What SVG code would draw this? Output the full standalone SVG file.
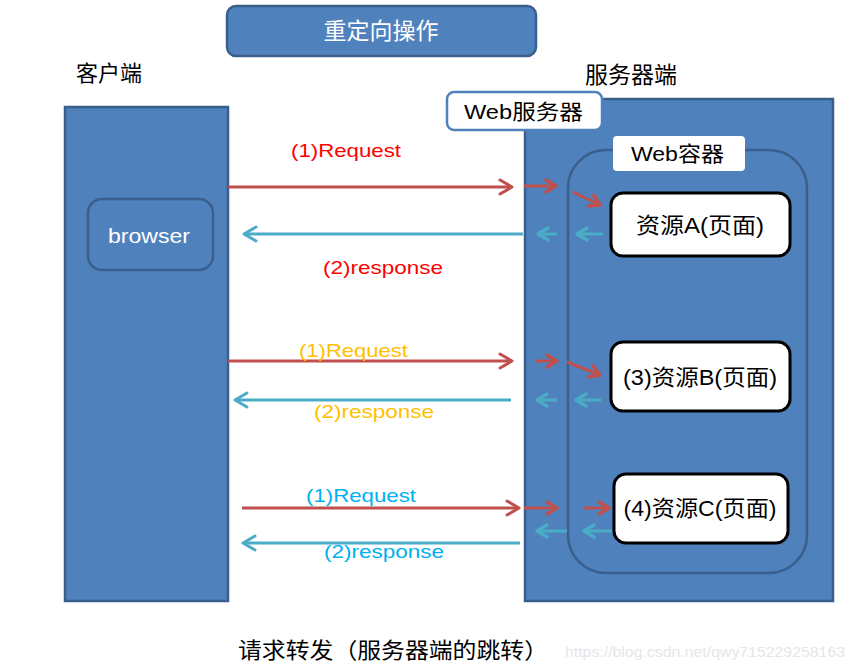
<svg xmlns="http://www.w3.org/2000/svg" width="855" height="670" viewBox="0 0 855 670">
<defs>
<style>
.box{fill:#4F81BD;stroke:#3A5F8C;stroke-width:2.5}
.res{fill:#FFFFFF;stroke:#000000;stroke-width:3}
.lab{font-family:"Liberation Sans","Noto Sans CJK SC",sans-serif}
.cjk{font-family:"Noto Sans CJK SC","Liberation Sans",sans-serif}
.red{stroke:#C0504D;stroke-width:3;fill:none}
.teal{stroke:#4BACC6;stroke-width:3;fill:none}
</style>
<marker id="mr" markerUnits="userSpaceOnUse" viewBox="-15 -10 18 20" markerWidth="18" markerHeight="20" refX="0" refY="0" orient="auto">
<path d="M-12,-7 L0,0 L-12,7" fill="none" stroke="#C0504D" stroke-width="3" stroke-linecap="round" stroke-linejoin="round"/>
</marker>
<marker id="mt" markerUnits="userSpaceOnUse" viewBox="-15 -10 18 20" markerWidth="18" markerHeight="20" refX="0" refY="0" orient="auto">
<path d="M-12,-7 L0,0 L-12,7" fill="none" stroke="#4BACC6" stroke-width="3" stroke-linecap="round" stroke-linejoin="round"/>
</marker>
<marker id="mrs" markerUnits="userSpaceOnUse" viewBox="-15 -10 18 20" markerWidth="18" markerHeight="20" refX="0" refY="0" orient="auto">
<path d="M-10,-6 L0,0 L-10,6" fill="none" stroke="#C0504D" stroke-width="3.5" stroke-linecap="round" stroke-linejoin="round"/>
</marker>
<marker id="mts" markerUnits="userSpaceOnUse" viewBox="-15 -10 18 20" markerWidth="18" markerHeight="20" refX="0" refY="0" orient="auto">
<path d="M-10,-6 L0,0 L-10,6" fill="none" stroke="#4BACC6" stroke-width="3.5" stroke-linecap="round" stroke-linejoin="round"/>
</marker>
</defs>
<rect width="855" height="670" fill="#FFFFFF"/>

<g id="title">
<rect class="box" x="227" y="6" width="309" height="50" rx="9"/>
<text class="cjk" x="381" y="39" font-size="23" fill="#FFFFFF" text-anchor="middle">重定向操作</text>
</g>

<g id="client">
<text class="cjk" x="76" y="81" font-size="22" fill="#000000">客户端</text>
<rect class="box" x="65" y="107" width="163" height="494"/>
</g>

<g id="browser">
<rect class="box" x="88" y="199" width="125" height="71" rx="14"/>
<text class="lab" x="108" y="243" font-size="21" fill="#FFFFFF" textLength="82" lengthAdjust="spacingAndGlyphs">browser</text>
</g>

<g id="server">
<text class="cjk" x="585" y="83" font-size="23" fill="#000000">服务器端</text>
<rect class="box" x="525" y="99" width="308" height="502"/>
</g>

<g id="webserver-label">
<rect x="447" y="92" width="155" height="38" rx="7" fill="#FFFFFF" stroke="#4F81BD" stroke-width="2.5"/>
<text class="lab" x="464" y="119" font-size="21" fill="#000000" textLength="119" lengthAdjust="spacingAndGlyphs">Web服务器</text>
</g>

<g id="webcontainer">
<rect x="568" y="150" width="239" height="423" rx="38" fill="none" stroke="#3A5F8C" stroke-width="2.5"/>
<rect x="613" y="136" width="132" height="35" rx="4" fill="#FFFFFF"/>
<text class="lab" x="631" y="161" font-size="21" fill="#000000" textLength="93" lengthAdjust="spacingAndGlyphs">Web容器</text>
</g>

<g id="resA">
<rect class="res" x="611" y="193" width="179" height="63" rx="12"/>
<text class="lab" x="700" y="233" font-size="22" fill="#000000" text-anchor="middle" textLength="128" lengthAdjust="spacingAndGlyphs">资源A(页面)</text>
</g>

<g id="resB">
<rect class="res" x="611" y="342" width="179" height="69" rx="12"/>
<text class="lab" x="700" y="385" font-size="22" fill="#000000" text-anchor="middle" textLength="154" lengthAdjust="spacingAndGlyphs">(3)资源B(页面)</text>
</g>

<g id="resC">
<rect class="res" x="614" y="474" width="174" height="69" rx="12"/>
<text class="lab" x="700" y="516" font-size="22" fill="#000000" text-anchor="middle" textLength="153" lengthAdjust="spacingAndGlyphs">(4)资源C(页面)</text>
</g>

<g id="connectors">
<!-- row 1 -->
<line class="red" x1="228" y1="187" x2="512" y2="187" marker-end="url(#mr)"/>
<line class="red" x1="524" y1="186" x2="556" y2="186" stroke-width="4" marker-end="url(#mrs)"/>
<line class="red" x1="573" y1="192" x2="600" y2="205" stroke-width="4" marker-end="url(#mrs)"/>
<line class="teal" x1="523" y1="234" x2="244" y2="234" marker-end="url(#mt)"/>
<line class="teal" x1="557" y1="234" x2="538" y2="234" stroke-width="3.5" marker-end="url(#mts)"/>
<line class="teal" x1="603" y1="234" x2="577" y2="234" stroke-width="3.5" marker-end="url(#mts)"/>
<!-- row 2 -->
<line class="red" x1="228" y1="361" x2="512" y2="361" marker-end="url(#mr)"/>
<line class="red" x1="536" y1="361" x2="557" y2="361" stroke-width="4" marker-end="url(#mrs)"/>
<line class="red" x1="567" y1="362" x2="600" y2="375" stroke-width="4" marker-end="url(#mrs)"/>
<line class="teal" x1="511" y1="400" x2="235" y2="400" marker-end="url(#mt)"/>
<line class="teal" x1="557" y1="400" x2="537" y2="400" stroke-width="3.5" marker-end="url(#mts)"/>
<line class="teal" x1="601" y1="400" x2="576" y2="400" stroke-width="3.5" marker-end="url(#mts)"/>
<!-- row 3 -->
<line class="red" x1="242" y1="508" x2="519" y2="508" marker-end="url(#mr)"/>
<line class="red" x1="524" y1="508" x2="557" y2="508" stroke-width="4" marker-end="url(#mrs)"/>
<line class="red" x1="583" y1="508" x2="609" y2="508" stroke-width="4" marker-end="url(#mrs)"/>
<line class="teal" x1="520" y1="543" x2="243" y2="543" marker-end="url(#mt)"/>
<line class="teal" x1="567" y1="531" x2="537" y2="531" stroke-width="3.5" marker-end="url(#mts)"/>
<line class="teal" x1="612" y1="531" x2="584" y2="531" stroke-width="3.5" marker-end="url(#mts)"/>
</g>

<g id="labels">
<text class="lab" x="291" y="157" font-size="19" fill="#FF0000" textLength="110" lengthAdjust="spacingAndGlyphs">(1)Request</text>
<text class="lab" x="323" y="274" font-size="19" fill="#FF0000" textLength="120" lengthAdjust="spacingAndGlyphs">(2)response</text>
<text class="lab" x="299" y="357" font-size="19" fill="#FFC000" textLength="109" lengthAdjust="spacingAndGlyphs">(1)Request</text>
<text class="lab" x="314" y="418" font-size="19" fill="#FFC000" textLength="120" lengthAdjust="spacingAndGlyphs">(2)response</text>
<text class="lab" x="306" y="502" font-size="19" fill="#00B0F0" textLength="110" lengthAdjust="spacingAndGlyphs">(1)Request</text>
<text class="lab" x="324" y="558" font-size="19" fill="#00B0F0" textLength="120" lengthAdjust="spacingAndGlyphs">(2)response</text>
</g>

<g id="caption">
<text class="cjk" x="238" y="658" font-size="22" fill="#000000" textLength="310" lengthAdjust="spacingAndGlyphs">请求转发（服务器端的跳转）</text>
<text x="565" y="657" font-family="Liberation Sans, sans-serif" font-size="14" fill="#E6E6E6" textLength="280" lengthAdjust="spacingAndGlyphs">https://blog.csdn.net/qwy715229258163</text>
</g>
</svg>
